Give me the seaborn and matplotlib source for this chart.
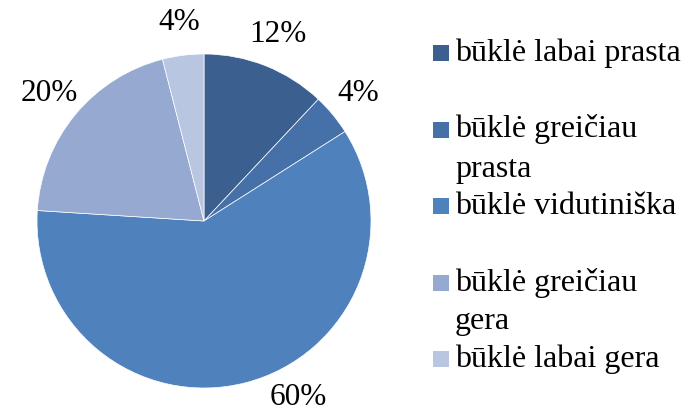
"""
Pie chart: būklės pasiskirstymas
"""

import numpy as np
import matplotlib
matplotlib.use("Agg")
import matplotlib.pyplot as plt
import seaborn as sns
from matplotlib.patches import Rectangle

categories = [
    "būklė labai prasta",
    "būklė greičiau\nprasta",
    "būklė vidutiniška",
    "būklė greičiau\ngera",
    "būklė labai gera",
]
shares = [12, 4, 60, 20, 4]
colors = ["#3B5F8F", "#4571A8", "#4F81BD", "#95A9D1", "#B9C6E1"]

sns.set_theme(style="white")
plt.rcParams["font.family"] = ["Liberation Serif", "DejaVu Serif"]

W, H = 682, 416
fig = plt.figure(figsize=(W / 100, H / 100), dpi=100)

# pie centre (204, 221) px, radius 167 px
cx, cy, r = 204, 221, 167
ax = fig.add_axes([(cx - r) / W, (H - cy - r) / H, 2 * r / W, 2 * r / H])
wedges, texts, autotexts = ax.pie(
    shares,
    colors=colors,
    startangle=90,
    counterclock=False,
    autopct="%.0f%%",
    pctdistance=1.2,
    wedgeprops=dict(edgecolor="white", linewidth=0.5),
    textprops=dict(fontsize=22.5, color="black"),
)
ax.set_xlim(-1, 1)
ax.set_ylim(-1, 1)
ax.set_aspect("equal")

# Excel places the big slice label a bit further round
ang = np.deg2rad(-62)
autotexts[2].set_position((1.20 * np.cos(ang), 1.20 * np.sin(ang)))

# legend drawn by hand so every entry gets the same slot height
top, step, line_h = 53, 76.5, 39
for i, (lab, col) in enumerate(zip(categories, colors)):
    yc = top + i * step
    fig.add_artist(Rectangle((433 / W, 1 - (yc + 8) / H), 16 / W, 16 / H,
                             transform=fig.transFigure, facecolor=col,
                             edgecolor="none"))
    for k, line in enumerate(lab.split("\n")):
        fig.text(455 / W, 1 - (yc + 8 + k * line_h) / H, line, fontsize=23,
                 va="baseline", ha="left", color="black")

fig.savefig("out.png", dpi=100)
plt.close(fig)
print("Saved out.png")
